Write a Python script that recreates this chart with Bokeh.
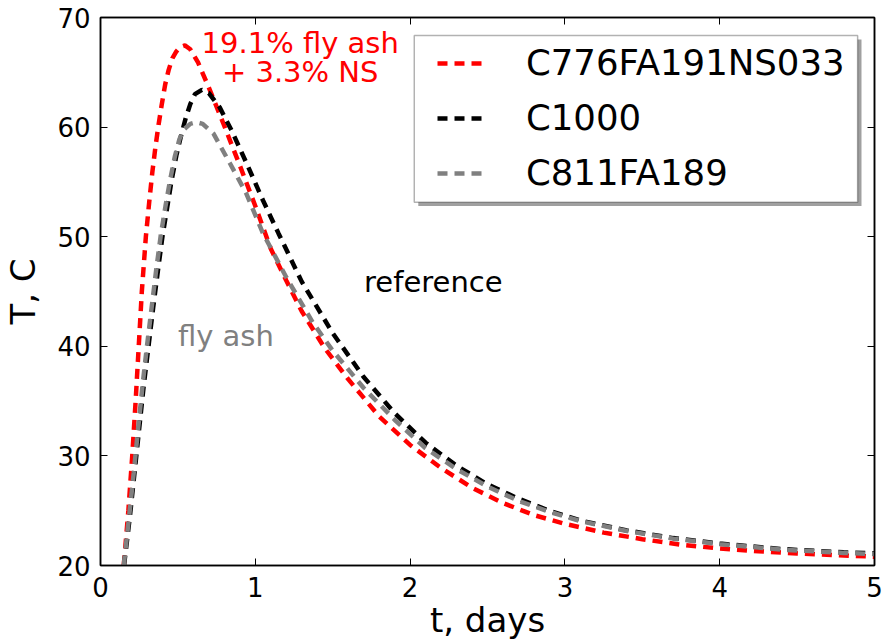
from bokeh.plotting import figure
from bokeh.models import Range1d, FixedTicker, LinearAxis, Legend, LegendItem, Label, BoxAnnotation
from bokeh.embed import file_html
from bokeh.resources import INLINE

FONT = "DejaVu Sans"

# ---- data ----
t_red = [0.150, 0.180, 0.205, 0.227, 0.247, 0.267, 0.293, 0.315, 0.335, 0.355, 0.375, 0.395,
         0.418, 0.440, 0.465, 0.490, 0.515, 0.545, 0.580, 0.630, 0.700, 0.800, 0.900, 1.000,
         1.100, 1.200, 1.300, 1.450, 1.600, 1.800, 2.000, 2.200, 2.400, 2.600, 2.800, 3.000,
         3.250, 3.500, 3.750, 4.000, 4.250, 4.500, 4.750, 5.000]
T_red = [20.0, 25.0, 30.0, 35.0, 40.0, 45.0, 50.0, 53.2, 55.9, 58.2, 60.2, 62.0,
         63.9, 65.2, 66.3, 66.9, 67.3, 67.45, 67.1, 65.9, 63.6, 60.1, 56.5, 52.8,
         48.9, 46.0, 43.2, 39.8, 37.0, 33.6, 31.0, 28.9, 27.1, 25.7, 24.6, 23.8,
         23.0, 22.4, 21.9, 21.55, 21.3, 21.1, 20.95, 20.8]

t_ref = [0.152, 0.190, 0.220, 0.250, 0.280, 0.310, 0.340, 0.370, 0.400, 0.430, 0.460, 0.490,
         0.520, 0.550, 0.580, 0.610, 0.655, 0.700, 0.770, 0.850, 0.950, 1.050, 1.150, 1.300,
         1.500, 1.700, 1.900, 2.100, 2.300, 2.500, 2.700, 2.900, 3.100, 3.400, 3.700, 4.000,
         4.400, 4.800, 5.000]
T_ref = [20.0, 24.5, 28.5, 32.5, 36.5, 40.0, 43.5, 46.8, 50.0, 52.6, 55.2, 57.4,
         59.2, 60.8, 62.1, 63.0, 63.4, 63.1, 61.8, 59.6, 56.5, 53.3, 50.3, 45.9,
         41.2, 37.2, 33.9, 31.2, 29.1, 27.4, 26.1, 25.0, 24.1, 23.2, 22.5, 22.0,
         21.5, 21.2, 21.1]

t_fa = [0.150, 0.185, 0.215, 0.243, 0.272, 0.300, 0.330, 0.360, 0.390, 0.420, 0.450, 0.480,
        0.510, 0.540, 0.580, 0.620, 0.660, 0.730, 0.836, 0.940, 1.050, 1.200, 1.370, 1.500,
        1.700, 1.900, 2.100, 2.300, 2.500, 2.700, 2.900, 3.100, 3.400, 3.700, 4.000, 4.400,
        4.800, 5.000]
T_fa = [20.0, 24.5, 28.5, 32.5, 36.5, 40.0, 43.5, 47.0, 50.2, 52.8, 55.2, 57.3,
        58.9, 59.8, 60.3, 60.45, 60.3, 59.4, 56.7, 54.0, 50.3, 46.3, 42.2, 39.6,
        36.2, 33.3, 30.7, 28.8, 27.2, 25.9, 24.9, 24.05, 23.15, 22.45, 21.95, 21.45,
        21.15, 21.05]

labels = ["C776FA191NS033", "C1000", "C811FA189"]
colors = ["#ff0000", "#000000", "#808080"]

x_ticks = [0, 1, 2, 3, 4, 5]
y_ticks = [20, 30, 40, 50, 60, 70]

p = figure(width=883, height=642, output_backend="svg", toolbar_location=None,
           x_range=Range1d(0, 5), y_range=Range1d(20, 70),
           min_border_left=97, min_border_right=9, min_border_top=17, min_border_bottom=76)
p.background_fill_color = "white"
p.border_fill_color = "white"
p.xgrid.visible = False
p.ygrid.visible = False
p.outline_line_color = "black"
p.outline_line_width = 1.5

def style_axis(ax, ticks, show_labels):
    ax.ticker = FixedTicker(ticks=ticks)
    ax.axis_line_color = "black"
    ax.axis_line_width = 1.5
    ax.major_tick_in = 7
    ax.major_tick_out = 0
    ax.major_tick_line_color = "black"
    ax.major_tick_line_width = 1
    ax.minor_tick_line_color = None
    ax.major_label_text_font = FONT
    ax.major_label_text_font_size = "26px"
    if show_labels:
        ax.major_label_text_color = "black"
        ax.major_label_standoff = 10
    else:
        ax.major_label_text_color = None
        ax.major_label_standoff = 0

style_axis(p.xaxis[0], x_ticks, True)
style_axis(p.yaxis[0], y_ticks, True)
p.xaxis[0].major_label_standoff = 11
p.xaxis[0].axis_label = "t, days"
p.yaxis[0].axis_label = "T, C"
for ax in (p.xaxis[0], p.yaxis[0]):
    ax.axis_label_text_font = FONT
    ax.axis_label_text_font_size = "34px"
    ax.axis_label_text_font_style = "normal"
    ax.axis_label_text_color = "black"
p.xaxis[0].axis_label_standoff = 0
p.yaxis[0].axis_label_standoff = 11

top_ax = LinearAxis()
right_ax = LinearAxis()
style_axis(top_ax, x_ticks, False)
style_axis(right_ax, y_ticks, False)
p.add_layout(top_ax, "above")
p.add_layout(right_ax, "right")

series = [(t_red, T_red), (t_ref, T_ref), (t_fa, T_fa)]
renderers = []
for (tx, ty), c in zip(series, colors):
    r = p.line(tx, ty, line_color=c, line_width=4.5, line_dash="10 7")
    renderers.append(r)

# legend frame with drop shadow (decoration)
p.add_layout(BoxAnnotation(left=2.053, right=4.916, bottom=52.79, top=67.99,
                           fill_color="#a0a0a0", fill_alpha=1.0, line_color=None,
                           level="underlay"))
p.add_layout(BoxAnnotation(left=2.027, right=4.891, bottom=53.15, top=68.36,
                           fill_color="white", fill_alpha=1.0, line_color="black",
                           line_width=1.5, level="underlay"))

legend = Legend(items=[LegendItem(label=l, renderers=[r]) for l, r in zip(labels, renderers)],
                location="top_right")
legend.label_text_font = FONT
legend.label_text_font_size = "35.5px"
legend.label_text_color = "black"
legend.border_line_color = None
legend.background_fill_alpha = 0.0
legend.glyph_width = 49
legend.glyph_height = 38
legend.label_height = 38
legend.label_standoff = 40
legend.label_width = 323
legend.padding = 0
legend.spacing = 14
legend.margin = 25
p.add_layout(legend)

for txt, x, y, col in [("19.1% fly ash", 1.29, 67.7, "#ff0000"),
                       ("+ 3.3% NS", 1.29, 65.0, "#ff0000"),
                       ("reference", 2.15, 45.9, "black"),
                       ("fly ash", 0.81, 40.95, "#808080")]:
    p.add_layout(Label(x=x, y=y, text=txt, text_font=FONT, text_font_size="29px",
                       text_color=col, text_align="center", text_baseline="middle"))

open("out.html", "w").write(file_html(p, INLINE))
